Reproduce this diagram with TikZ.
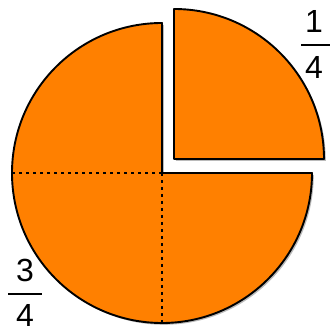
\documentclass[tikz,border=0pt]{standalone}
\usepackage{fontspec}
\setmainfont{Liberation Sans}
\usetikzlibrary{shadows}
\definecolor{pie}{RGB}{255,128,0}
\begin{document}
\begin{tikzpicture}[x=1pt,y=1pt,
  piece/.style={fill=pie,draw=black,line width=1.9pt,line join=round,
    drop shadow={shadow xshift=1.8pt,shadow yshift=-1.8pt,opacity=0.45,fill=black!60}},
  cut/.style={draw=black,line width=2.6pt,dash pattern=on 3pt off 4pt},
  digit/.style={font=\fontsize{32}{38}\selectfont,inner sep=0pt},
  bar/.style={line width=2pt}]
\useasboundingbox (0,0) rectangle (331,334);
\coordinate (C) at (162,161);
\coordinate (Q) at (174,175);
\path[piece] (C) -- ++(0,150) arc[start angle=90,end angle=360,radius=150] -- cycle;
\path[piece] (Q) -- ++(150,0) arc[start angle=0,end angle=90,radius=150] -- cycle;
\coordinate (L) at (12,161);
\coordinate (B) at (162,11);
\draw[cut] (C) -- (L);
\draw[cut] (C) -- (B);
% 1/4
\node[digit] (n1) at (314,313) {1};
\node[digit] (d1) at (314,267) {4};
\coordinate (b1a) at (301,289);
\coordinate (b1b) at (330,289);
\draw[bar] (b1a) -- (b1b);
% 3/4
\node[digit] (n3) at (25,64) {3};
\node[digit] (d3) at (25,19) {4};
\coordinate (b3a) at (8,40);
\coordinate (b3b) at (42,40);
\draw[bar] (b3a) -- (b3b);
\end{tikzpicture}
\end{document}
